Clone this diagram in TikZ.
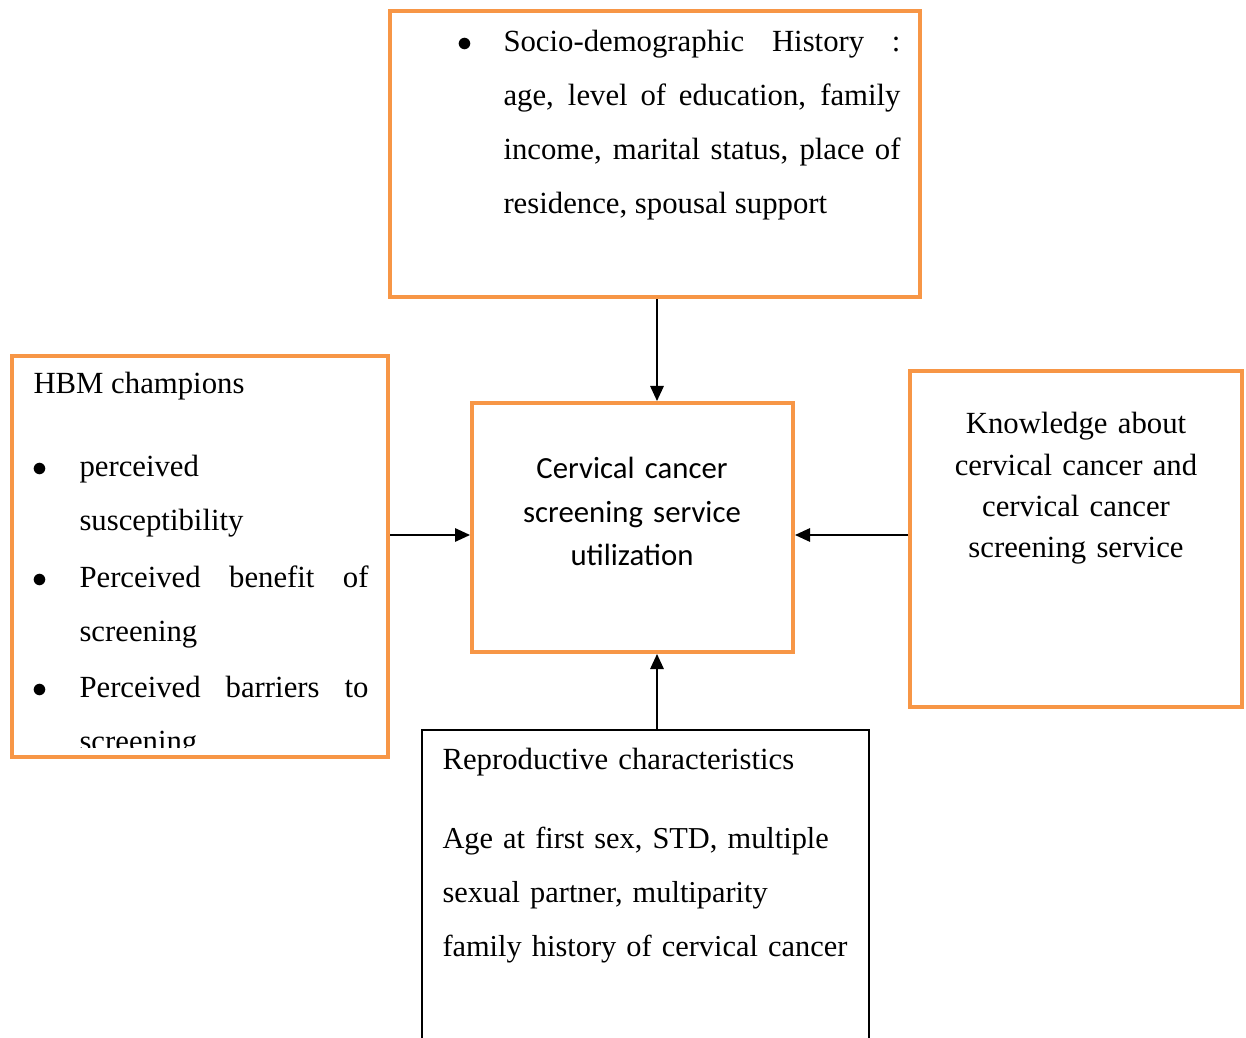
\documentclass[tikz,border=0pt]{standalone}
\usepackage{fontspec}
\setmainfont{Liberation Serif}
\newfontfamily\calibrifont{Carlito}
\usetikzlibrary{arrows.meta,positioning}
\definecolor{boxorange}{HTML}{F79646}
\newcommand\bul{\leavevmode\llap{\makebox[18.6pt][l]{$\bullet$}}}

\begin{document}
\begin{tikzpicture}[x=0.4pt,y=-0.4pt,
  obox/.style={draw=boxorange, line width=1.6pt, rectangle, inner sep=0pt},
  kbox/.style={draw=black, line width=0.8pt, rectangle, inner sep=0pt},
  btext/.style={inner sep=0pt, anchor=base west, align=justify, font=\fontsize{12.3}{21.5}\selectfont},
  ctext/.style={inner sep=0pt, anchor=base, align=center},
  conn/.style={-{Triangle[length=6pt,width=5.4pt]}, line width=0.6pt}
]
\useasboundingbox (0,0) rectangle (1246,1038);
\node[obox, minimum width=212pt, minimum height=114.4pt] (socio) at (655,154) {};
\node[obox, minimum width=150.4pt, minimum height=160.4pt] (hbm) at (200,556.5) {};
\node[obox, minimum width=128.4pt, minimum height=99.6pt] (ccsu) at (632.5,527.5) {};
\node[obox, minimum width=132.8pt, minimum height=134.4pt] (know) at (1076,539) {};
\node[kbox, minimum width=178.8pt, minimum height=160pt] (repro) at (645.5,930) {};

\coordinate (vline) at (657,0);
\coordinate (hline) at (0,535);
\draw[conn] (socio.south -| vline) -- (ccsu.north -| vline);
\draw[conn] (repro.north -| vline) -- (ccsu.south -| vline);
\draw[conn] (hbm.east |- hline) -- (ccsu.west |- hline);
\draw[conn] (know.west |- hline) -- (ccsu.east |- hline);

\node[btext, text width=158.8pt] (sociotxt) at (503,52) {\bul\mbox{Socio-demographic} History :\linebreak age, level of education, family\linebreak income, marital status, place of\linebreak residence, spousal support};

\node[btext, text width=140pt] (hbmhead) at (33,394) {HBM champions};
\begin{scope}
  \clip (14,358) rectangle (386,747);
  \node[btext, text width=115.6pt] (hbmlist) at (79,477) {\setlength{\parskip}{1.1pt}\bul perceived\newline susceptibility\par
    \bul Perceived benefit of\linebreak screening\par
    \bul Perceived barriers to\linebreak screening};
\end{scope}

\node[ctext, text width=128pt, font=\calibrifont\fontsize{12.3}{17.3}\selectfont] (ccsutxt) at (632,479) {Cervical cancer\\screening service\\utilization};
\node[ctext, text width=132pt, font=\fontsize{12.3}{16.5}\selectfont] (knowtxt) at (1076,434) {Knowledge about\\cervical cancer and\\cervical cancer\\screening service};

\node[btext, align=left, text width=170pt] (reprohead) at (442,769) {Reproductive characteristics};
\node[btext, align=left, text width=170pt, font=\fontsize{12.15}{21.6}\selectfont] (reprotxt) at (442,848) {Age at first sex, STD, multiple\\sexual partner, multiparity\\family history of cervical cancer};
\end{tikzpicture}
\end{document}
